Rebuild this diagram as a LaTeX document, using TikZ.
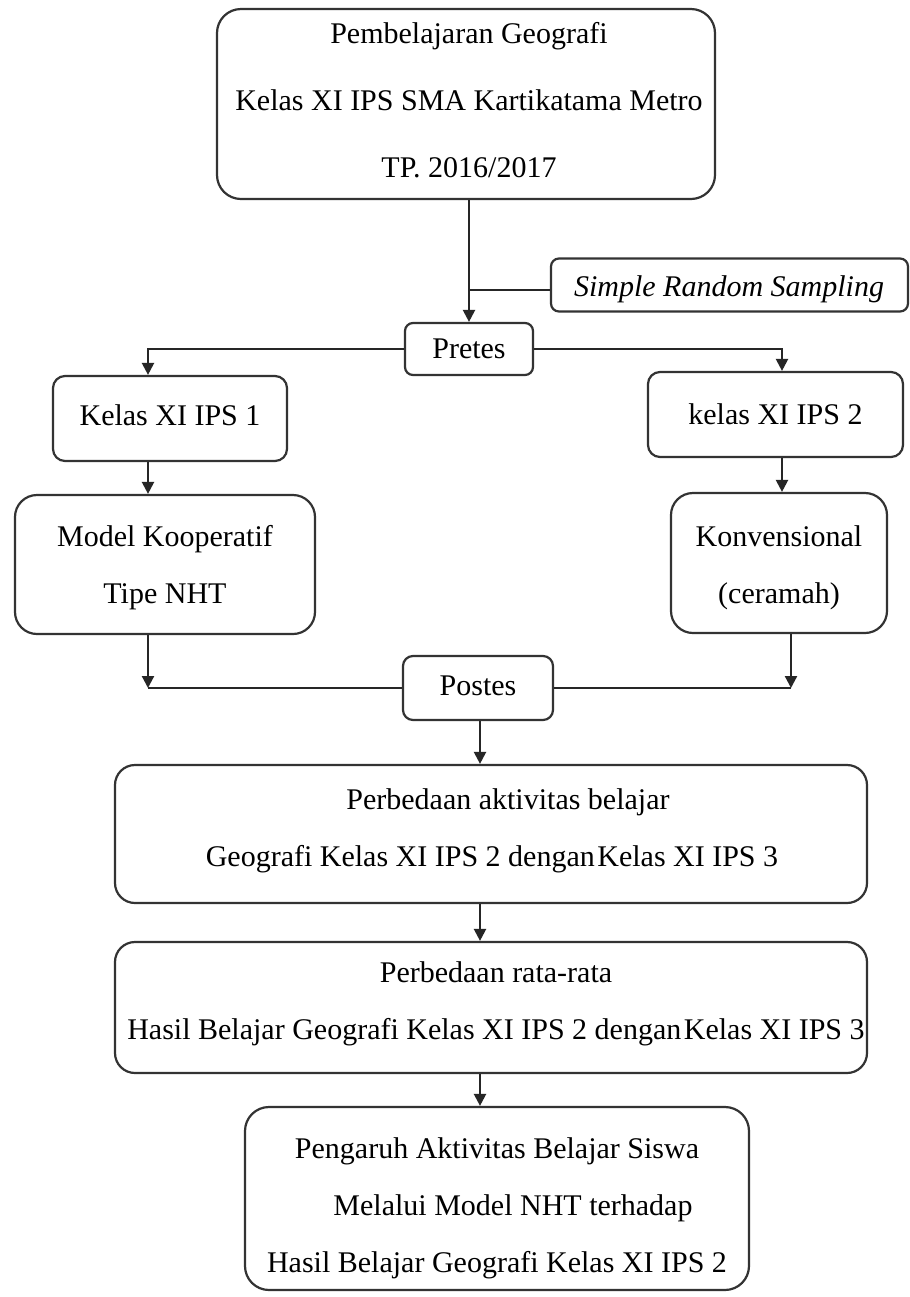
\documentclass[tikz,border=0pt]{standalone}
\usepackage{fontspec}
\setmainfont{Liberation Serif}
\usetikzlibrary{arrows.meta}
\begin{document}
\begin{tikzpicture}[x=0.5pt,y=-0.5pt,
  box/.style={draw=black!80, line width=1.1pt, inner sep=0pt},
  txt/.style={inner sep=0pt, align=center, font=\fontsize{15}{28.5}\selectfont},
  conn/.style={draw=black!85, line width=1.1pt},
  arr/.style={conn, -{Triangle[length=6pt,width=6pt]}}]
\useasboundingbox (0,0) rectangle (910,1297);
\fill[white] (0,0) rectangle (910,1297);

% boxes
\node[box, rounded corners=12pt, minimum width=249pt, minimum height=95pt] (top) at (466,104) {};
\node[box, rounded corners=4pt, minimum width=178.5pt, minimum height=26.5pt] (srs) at (729.5,285) {};
\node[box, rounded corners=4pt, minimum width=64pt, minimum height=26pt] (pretes) at (469,349) {};
\node[box, rounded corners=6pt, minimum width=117pt, minimum height=42.5pt] (k1) at (170,418.5) {};
\node[box, rounded corners=6pt, minimum width=127.5pt, minimum height=42.5pt] (k2) at (775.5,414.5) {};
\node[box, rounded corners=11pt, minimum width=150pt, minimum height=69.5pt] (model) at (165,564.5) {};
\node[box, rounded corners=11pt, minimum width=108pt, minimum height=70pt] (konv) at (779,563) {};
\node[box, rounded corners=5pt, minimum width=75pt, minimum height=32pt] (postes) at (478,688) {};
\node[box, rounded corners=10pt, minimum width=376pt, minimum height=69pt] (pa) at (491,834) {};
\node[box, rounded corners=10pt, minimum width=376pt, minimum height=65.5pt] (pr) at (491,1007.5) {};
\node[box, rounded corners=12pt, minimum width=252pt, minimum height=91.5pt] (peng) at (497,1198.5) {};

% texts
\node[txt, font=\fontsize{15}{33.5}\selectfont] (topt) at (469,100)
  {Pembelajaran Geografi\\Kelas XI IPS SMA Kartikatama Metro\\TP. 2016/2017};
\node[txt, font=\fontsize{15}{18}\itshape] (srst) at (729,289) {Simple Random Sampling};
\node[txt] (pretest) at (469,349) {Pretes};
\node[txt] (k1t) at (170,415.5) {Kelas XI IPS 1};
\node[txt] (k2t) at (775.5,414) {kelas XI IPS 2};
\node[txt] (modelt) at (165,568) {Model Kooperatif\\Tipe NHT};
\node[txt] (konvt) at (779,568) {Konvensional\\(ceramah)};
\node[txt] (postest) at (478,686) {Postes};
\node[txt] (pat) at (492,831)
  {\hspace*{16pt}Perbedaan aktivitas belajar\\Geografi Kelas XI IPS 2 dengan\hspace{-2.5pt} Kelas XI IPS 3};
\node[txt] (prt) at (496,1004)
  {Perbedaan rata-rata\\Hasil Belajar Geografi Kelas XI IPS 2 dengan\hspace{-2.5pt} Kelas XI IPS 3};
\node[txt] (pengt) at (497,1208)
  {Pengaruh Aktivitas Belajar Siswa\\\hspace*{16pt}Melalui Model NHT terhadap\\Hasil Belajar Geografi Kelas XI IPS 2};

\coordinate (lx) at (148,0);
\coordinate (rx) at (782,0);
\coordinate (rx2) at (791,0);
\coordinate (cx) at (480,0);

% connectors
\draw[arr] (pretes.north |- top.south) -- (pretes.north);
\draw[conn] (srs.west |- 0,290) -- (pretes.north |- 0,290);
\draw[arr] (pretes.west) -| (k1.north -| lx);
\draw[arr] (pretes.east) -| (k2.north -| rx);
\draw[arr] (k1.south -| lx) -- (model.north -| lx);
\draw[arr] (k2.south -| rx) -- (konv.north -| rx);
\draw[arr] (model.south -| lx) -- (postes.west -| lx);
\draw[conn] (postes.west -| lx) -- (postes.west);
\draw[arr] (konv.south -| rx2) -- (postes.east -| rx2);
\draw[conn] (postes.east -| rx2) -- (postes.east);
\draw[arr] (postes.south -| cx) -- (pa.north -| cx);
\draw[arr] (pa.south -| cx) -- (pr.north -| cx);
\draw[arr] (pr.south -| cx) -- (peng.north -| cx);
\end{tikzpicture}
\end{document}
